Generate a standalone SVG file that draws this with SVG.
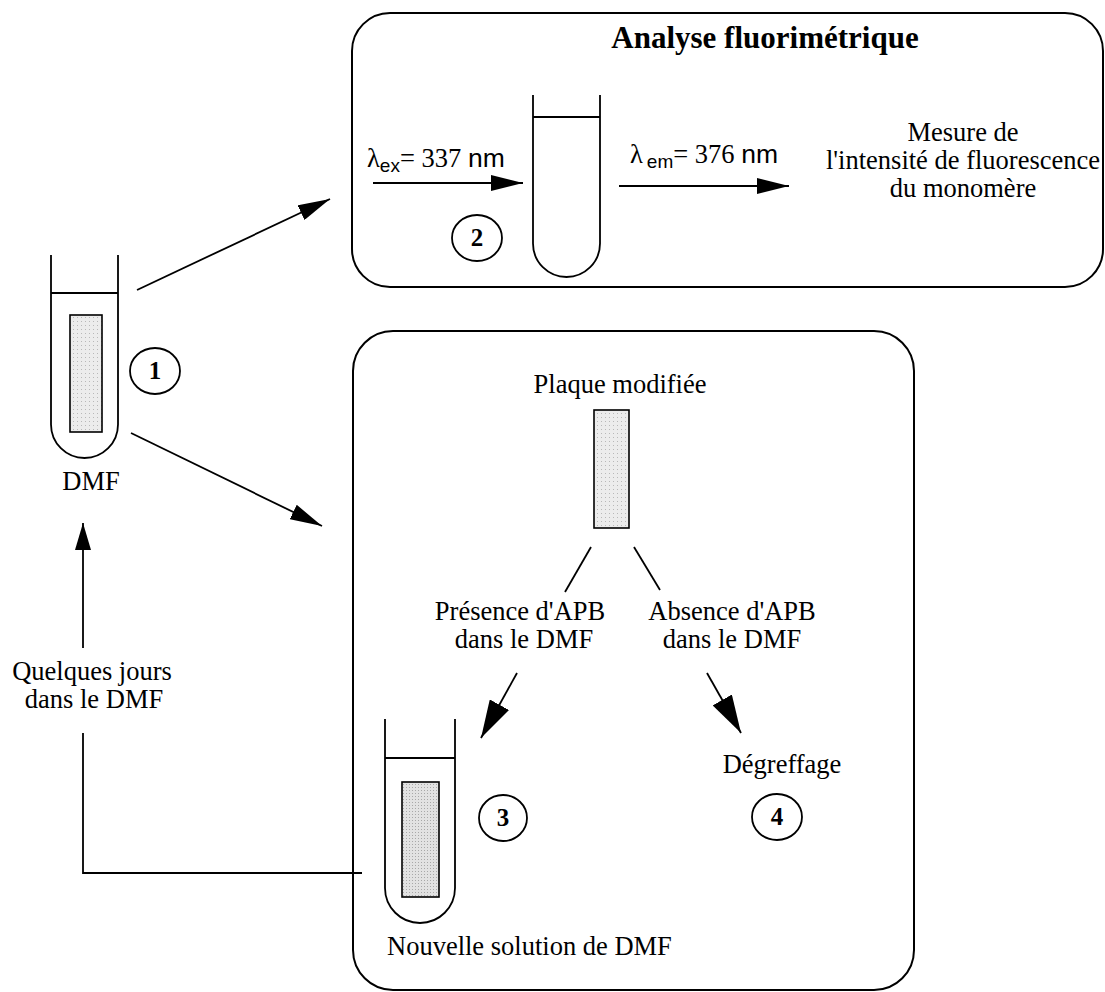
<svg xmlns="http://www.w3.org/2000/svg" width="1105" height="992" viewBox="0 0 1105 992">
<style>
.ln{fill:none;stroke:#000;stroke-width:1.8}
.box{fill:none;stroke:#000;stroke-width:2}
.t{font-family:"Liberation Serif","Times New Roman",serif;font-size:26.5px;fill:#000}
.mid{text-anchor:middle}
.num{font-family:"Liberation Serif","Times New Roman",serif;font-size:25px;font-weight:bold;text-anchor:middle;fill:#000}
.sans{font-family:"Liberation Sans",Arial,sans-serif}
.plate{stroke:#000;stroke-width:1.6}
</style>
<defs>
<marker id="ah" markerUnits="userSpaceOnUse" markerWidth="32" markerHeight="16" refX="32" refY="8" orient="auto"><path d="M0,0 L32,8 L0,16 Z" fill="#000"/></marker>
<marker id="ahb" markerUnits="userSpaceOnUse" markerWidth="38" markerHeight="22" refX="38" refY="11" orient="auto"><path d="M0,0 L38,11 L0,22 Z" fill="#000"/></marker>
<marker id="ahs" markerUnits="userSpaceOnUse" markerWidth="27" markerHeight="16" refX="27" refY="8" orient="auto"><path d="M0,0 L27,8 L0,16 Z" fill="#000"/></marker>
<pattern id="dots" width="4" height="4" patternUnits="userSpaceOnUse"><rect width="4" height="4" fill="#ececec"/><rect x="1" y="1" width="1" height="1" fill="#b8b8b8"/></pattern>
<pattern id="dots2" width="3" height="3" patternUnits="userSpaceOnUse"><rect width="3" height="3" fill="#e2e2e2"/><rect x="1" y="1" width="1" height="1" fill="#a8a8a8"/></pattern>
</defs>

<g id="box-analyse">
<rect class="box" x="352" y="13" width="751" height="274" rx="38" ry="38"/>
<text x="765" y="48" class="t mid" style="font-weight:bold;font-size:31px">Analyse fluorimétrique</text>
</g>

<g id="tube2">
<path class="ln" d="M533,95 V243.5 A33.5,33.5 0 0 0 600,243.5 V95"/>
<line class="ln" x1="533" y1="117" x2="600" y2="117"/>
</g>
<g id="num2"><ellipse class="ln" cx="477" cy="238" rx="25" ry="23"/><text x="477" y="246" class="num">2</text></g>

<g id="label-ex">
<text x="367" y="167" class="t"><tspan>λ</tspan><tspan class="sans" font-size="19" dy="5">ex</tspan><tspan dy="-5">= 337 </tspan><tspan class="sans">nm</tspan></text>
</g>
<g id="label-em">
<text x="630" y="163" class="t"><tspan>λ</tspan><tspan class="sans" font-size="19" dx="4" dy="5">em</tspan><tspan dy="-5">= 376 </tspan><tspan class="sans">nm</tspan></text>
</g>
<g id="mesure">
<text class="t mid" x="963" y="141">Mesure de</text>
<text class="t mid" x="963" y="169">l'intensité de fluorescence</text>
<text class="t mid" x="963" y="197">du monomère</text>
</g>

<g id="tube1">
<path class="ln" d="M51,255 V424.5 A33.5,33.5 0 0 0 118,424.5 V255"/>
<line class="ln" x1="51" y1="293" x2="118" y2="293"/>
<rect class="plate" x="70" y="315" width="32" height="117" fill="url(#dots)"/>
<text class="t mid" x="91" y="490">DMF</text>
</g>
<g id="num1"><ellipse class="ln" cx="155" cy="371" rx="25" ry="23"/><text x="155" y="379" class="num">1</text></g>

<g id="box-plaque">
<rect class="box" x="353" y="331" width="561" height="659" rx="40" ry="40"/>
</g>
<g id="plaque">
<text class="t mid" x="620" y="393">Plaque modifiée</text>
<rect class="plate" x="594" y="410" width="35" height="118" fill="url(#dots)"/>
</g>
<g id="presence">
<text class="t mid" x="520" y="620">Présence d'APB</text>
<text class="t mid" x="524" y="648">dans le DMF</text>
</g>
<g id="absence">
<text class="t mid" x="732" y="620">Absence d'APB</text>
<text class="t mid" x="732" y="648">dans le DMF</text>
</g>
<g id="degreffage">
<text class="t mid" x="782" y="773">Dégreffage</text>
</g>
<g id="num4"><ellipse class="ln" cx="777" cy="817" rx="25" ry="23"/><text x="777" y="825" class="num">4</text></g>

<g id="tube3">
<path class="ln" d="M385,719 V888 A35,35 0 0 0 455,888 V719"/>
<line class="ln" x1="385" y1="758" x2="455" y2="758"/>
<rect class="plate" x="402" y="782" width="37" height="115" fill="url(#dots2)"/>
<text class="t" x="387" y="955">Nouvelle solution de DMF</text>
</g>
<g id="num3"><ellipse class="ln" cx="503" cy="818" rx="24" ry="23"/><text x="503" y="826" class="num">3</text></g>

<g id="return-label">
<text class="t mid" x="92" y="680">Quelques jours</text>
<text class="t mid" x="94" y="708">dans le DMF</text>
</g>

<g id="connectors">
<line class="ln" x1="137" y1="290" x2="330" y2="199" marker-end="url(#ah)"/>
<line class="ln" x1="131" y1="433" x2="322" y2="526" marker-end="url(#ah)"/>
<line class="ln" x1="373" y1="183" x2="523" y2="183" marker-end="url(#ah)"/>
<line class="ln" x1="619" y1="186" x2="789" y2="186" marker-end="url(#ah)"/>
<line class="ln" x1="591" y1="547" x2="565" y2="592"/>
<line class="ln" x1="634" y1="547" x2="660" y2="590"/>
<line class="ln" x1="517" y1="673" x2="481" y2="738" marker-end="url(#ahb)"/>
<line class="ln" x1="707" y1="673" x2="741" y2="733" marker-end="url(#ahb)"/>
<path class="ln" d="M362,873 H83 V733"/>
<line class="ln" x1="83" y1="648" x2="83" y2="523" marker-end="url(#ahs)"/>
</g>
</svg>
